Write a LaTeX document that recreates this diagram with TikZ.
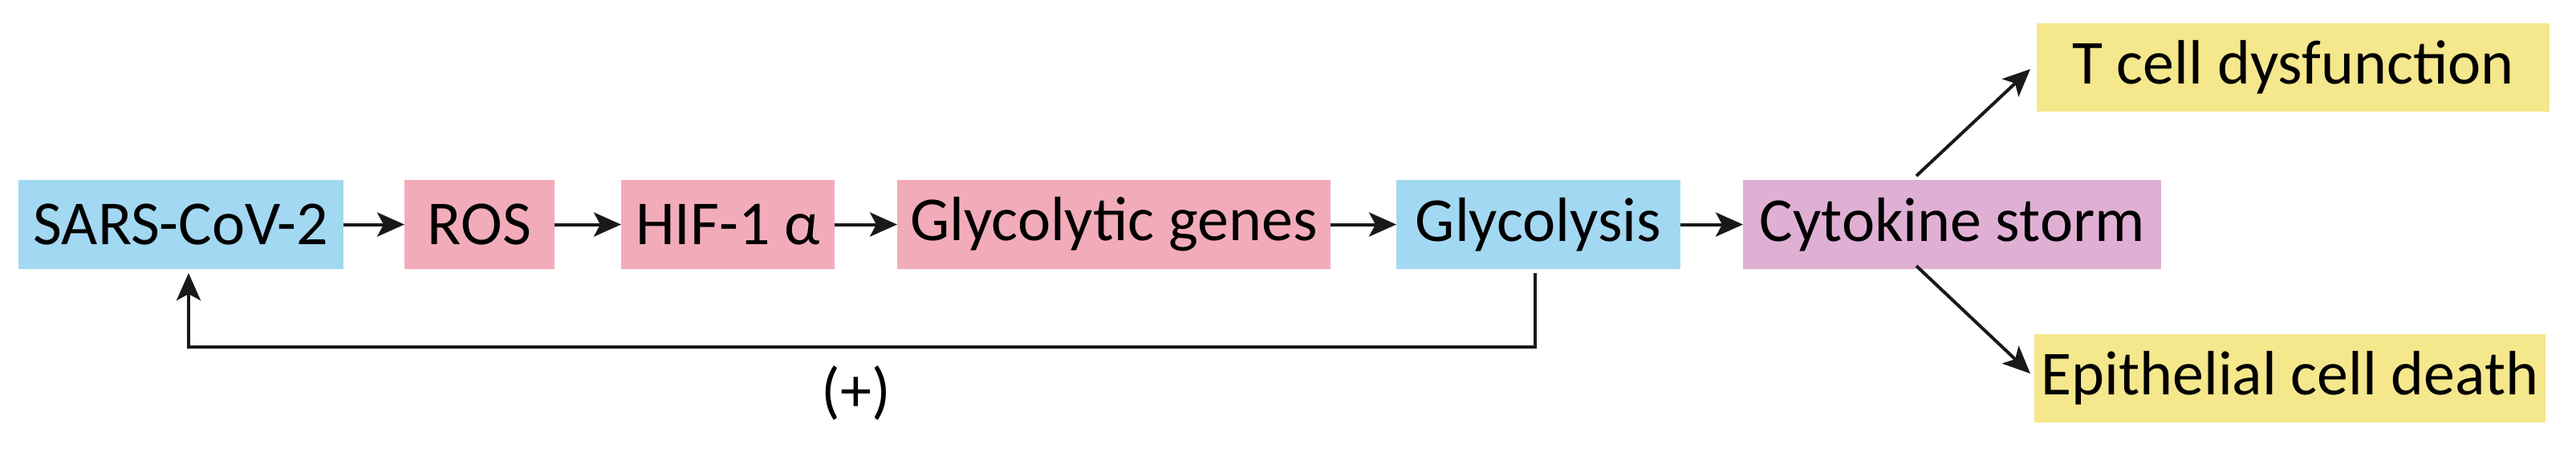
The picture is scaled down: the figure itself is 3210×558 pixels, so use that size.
\documentclass[tikz,border=0pt]{standalone}
\usepackage{fontspec}
\setmainfont{Carlito}
\usetikzlibrary{arrows.meta}
\definecolor{cblue}{RGB}{163,216,242}
\definecolor{cpink}{RGB}{242,172,185}
\definecolor{cpurp}{RGB}{224,176,212}
\definecolor{cyell}{RGB}{245,231,140}
\begin{document}
\begin{tikzpicture}[x=1pt,y=-1pt,
  box/.style={inner sep=0pt,outer sep=0pt,font=\fontsize{78}{80}\selectfont},
  arr/.style={line width=4pt,-{Stealth[length=34pt,width=30pt,inset=8pt]},draw=black!90}]
\useasboundingbox (0,0) rectangle (3210,558);
\newcommand{\bx}[6]{\fill[#6] (#2,#3) rectangle (#4,#5); \node[box] (#1) at ({(#2+#4)/2},{(#3+#5)/2}) [minimum width={#4-#2},minimum height={#5-#3}] {};}
\fill[cblue] (23,224) rectangle (428,335);
\node[box,minimum width=405pt,minimum height=111pt] (sars) at (225.5,279.5) {SARS-CoV-2};
\fill[cpink] (504,224) rectangle (691,335);
\node[box,minimum width=187pt,minimum height=111pt] (ros) at (597.5,279.5) {ROS};
\fill[cpink] (774,224) rectangle (1040,335);
\node[box,minimum width=266pt,minimum height=111pt] (hif) at (907,279.5) {HIF-1 α};
\fill[cpink] (1118,224) rectangle (1658,335);
\node[box,minimum width=540pt,minimum height=111pt] (gg) at (1388,279.5) {Glycolytic genes};
\fill[cblue] (1740,224) rectangle (2094,335);
\node[box,minimum width=354pt,minimum height=111pt] (gl) at (1917,279.5) {Glycolysis};
\fill[cpurp] (2172,224) rectangle (2693,335);
\node[box,minimum width=521pt,minimum height=111pt] (cs) at (2432.5,279.5) {Cytokine storm};
\fill[cyell] (2538,29) rectangle (3177,139);
\node[box,minimum width=639pt,minimum height=110pt] (tc) at (2857.5,84) {T cell dysfunction};
\fill[cyell] (2535,416) rectangle (3172,526);
\node[box,minimum width=637pt,minimum height=110pt] (ep) at (2853.5,471) {Epithelial cell death};
\draw[arr] (sars) -- (ros);
\draw[arr] (ros) -- (hif);
\draw[arr] (hif) -- (gg);
\draw[arr] (gg) -- (gl);
\draw[arr] (gl) -- (cs);
\coordinate (fs) at (1913,340);
\coordinate (fe) at (235,340);
\draw[arr] (fs) -- (1913,432) -- (235,432) -- (fe);
\node[box] (plus) at (1067,489) {(+)};
\coordinate (u0) at (2388,219);
\coordinate (u1) at (2530,86);
\coordinate (d0) at (2388,331);
\coordinate (d1) at (2530,465);
\draw[arr] (u0) -- (u1);
\draw[arr] (d0) -- (d1);
\end{tikzpicture}
\end{document}
